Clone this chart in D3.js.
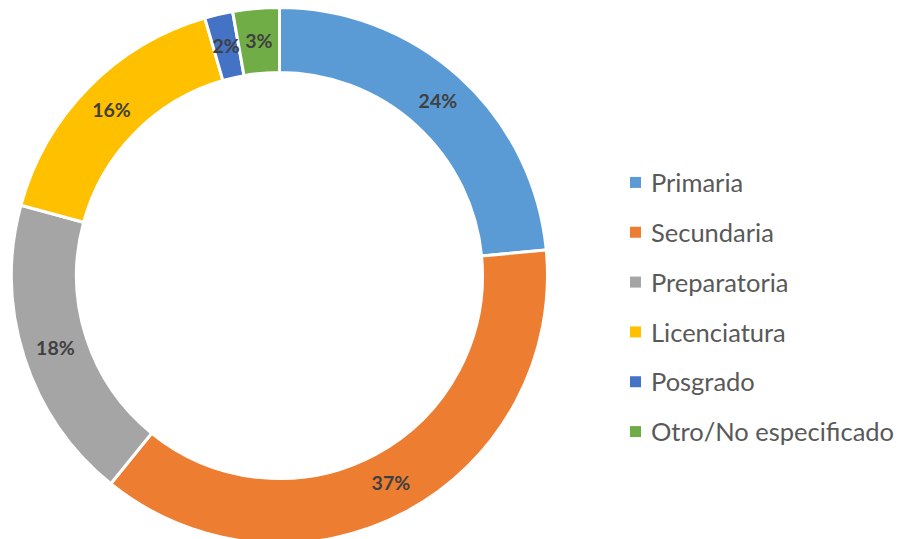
<!DOCTYPE html>
<html><head><meta charset="utf-8">
<script src="https://cdn.jsdelivr.net/npm/d3@7"></script>
<style>html,body{margin:0;padding:0;background:#fff;}svg{display:block;}</style>
</head><body>
<svg id="chart" width="901" height="539"></svg>
<script>
const categories = ["Primaria","Secundaria","Preparatoria","Licenciatura","Posgrado","Otro/No especificado"];
const values = [23.5, 37.4, 18.4, 16.3, 1.7, 2.8];
const colors = ["#5B9BD5","#ED7D31","#A5A5A5","#FFC000","#4472C4","#70AD47"];

const svg = d3.select("#chart");
const cx = 279.5, cy = 275.5, outerR = 268, innerR = 203;
const data = categories.map((c,i)=>({name:c, value:values[i], color:colors[i]}));
const pie = d3.pie().value(d=>d.value).sort(null);
const arc = d3.arc().innerRadius(innerR).outerRadius(outerR);
const arcs = pie(data);
const g = svg.append("g").attr("transform",`translate(${cx},${cy})`);
g.selectAll("path").data(arcs).join("path")
  .attr("d",arc).attr("fill",d=>d.data.color)
  .attr("stroke","#fff").attr("stroke-width",3).attr("stroke-linejoin","miter");
g.selectAll("text").data(arcs).join("text")
  .attr("transform",d=>`translate(${arc.centroid(d)})`)
  .attr("text-anchor","middle").attr("dy","0.36em")
  .style("font-family","Lato, 'Open Sans', sans-serif").style("font-weight","bold")
  .style("font-size","19.5px").attr("fill","#404040")
  .text(d=>Math.round(d.data.value)+"%");

const legendScale = d3.scaleBand().domain(categories).range([158,457]);
const lg = svg.append("g");
const items = lg.selectAll("g").data(data).join("g")
  .attr("transform",d=>`translate(630,${legendScale(d.name)+legendScale.bandwidth()/2})`);
items.append("rect").attr("x",0).attr("y",-6).attr("width",11).attr("height",11).attr("fill",d=>d.color);
items.append("text").attr("x",21).attr("dy","0.36em")
  .style("font-family","Lato, 'Open Sans', sans-serif").style("font-size","25.5px").attr("fill","#595959")
  .text(d=>d.name);
</script>
</body></html>
